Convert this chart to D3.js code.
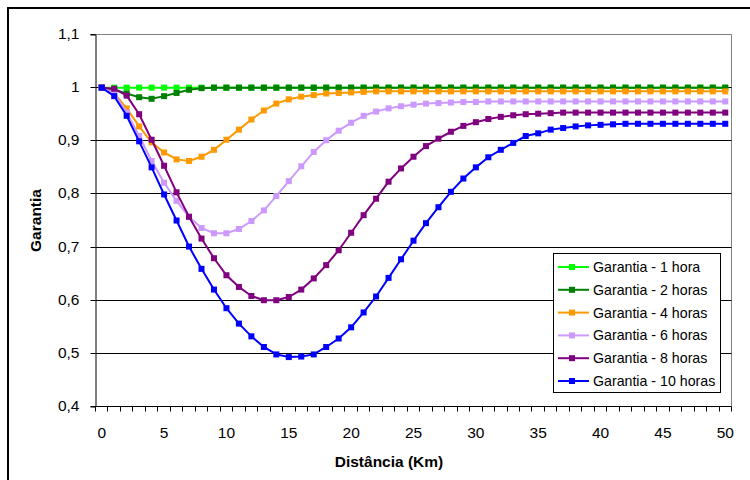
<!DOCTYPE html>
<html>
<head>
<meta charset="utf-8">
<script src="https://cdn.jsdelivr.net/npm/d3@7"></script>
<style>
  body { margin: 0; background: #fff; }
  svg { display: block; font-family: "Liberation Sans", Arial, sans-serif; }
</style>
</head>
<body>
<svg id="chart" width="750" height="480"></svg>
<script>
// ---- Data ----
const distances = [0,1,2,3,4,5,6,7,8,9,10,11,12,13,14,15,16,17,18,19,20,21,22,23,24,25,26,27,28,29,30,31,32,33,34,35,36,37,38,39,40,41,42,43,44,45,46,47,48,49,50];
const xTickLabels = [0,5,10,15,20,25,30,35,40,45,50];
const yTicks = [0.4,0.5,0.6,0.7,0.8,0.9,1.0,1.1];
const seriesNames = ["Garantia - 1 hora","Garantia - 2 horas","Garantia - 4 horas","Garantia - 6 horas","Garantia - 8 horas","Garantia - 10 horas"];
const seriesColors = ["#00FF00","#008000","#FF9900","#CC99FF","#800080","#0000FF"];

const g1h = [1,1,1,1,1,1,1,1,1,1,1,1,1,1,1,1,1,1,1,1,1,1,1,1,1,1,1,1,1,1,1,1,1,1,1,1,1,1,1,1,1,1,1,1,1,1,1,1,1,1,1];
const g2h = [1,0.996,0.989,0.982,0.979,0.984,0.990,0.996,0.999,1,1,1,1,1,1,1,1,1,1,1,1,1,1,1,1,1,1,1,1,1,1,1,1,1,1,1,1,1,1,1,1,1,1,1,1,1,1,1,1,1,1];
const g4h = [1,0.990,0.961,0.927,0.897,0.878,0.865,0.862,0.870,0.883,0.902,0.921,0.940,0.957,0.970,0.978,0.983,0.986,0.989,0.990,0.991,0.992,0.993,0.993,0.993,0.993,0.993,0.993,0.993,0.993,0.993,0.993,0.993,0.993,0.993,0.993,0.993,0.993,0.993,0.993,0.993,0.993,0.993,0.993,0.993,0.993,0.993,0.993,0.993,0.993,0.993];
const g6h = [1,0.990,0.953,0.909,0.862,0.821,0.787,0.757,0.736,0.726,0.726,0.734,0.749,0.769,0.796,0.824,0.852,0.879,0.901,0.919,0.934,0.947,0.955,0.961,0.965,0.968,0.970,0.971,0.972,0.973,0.973,0.974,0.974,0.974,0.974,0.974,0.974,0.974,0.974,0.974,0.974,0.974,0.974,0.974,0.974,0.974,0.974,0.974,0.974,0.974,0.974];
const g8h = [1,0.998,0.985,0.950,0.902,0.853,0.803,0.757,0.716,0.679,0.647,0.625,0.608,0.600,0.600,0.606,0.620,0.641,0.666,0.694,0.727,0.760,0.791,0.823,0.848,0.870,0.890,0.904,0.917,0.928,0.935,0.941,0.945,0.948,0.950,0.951,0.952,0.953,0.953,0.953,0.953,0.953,0.953,0.953,0.953,0.953,0.953,0.953,0.953,0.953,0.953];
const g10h = [1,0.984,0.947,0.899,0.850,0.799,0.750,0.701,0.659,0.620,0.585,0.556,0.532,0.512,0.498,0.493,0.494,0.498,0.512,0.528,0.549,0.577,0.607,0.642,0.677,0.712,0.745,0.775,0.804,0.829,0.850,0.869,0.883,0.896,0.909,0.914,0.921,0.924,0.927,0.929,0.930,0.931,0.932,0.932,0.932,0.932,0.932,0.932,0.932,0.932,0.932];

const seriesValues = [g1h, g2h, g4h, g6h, g8h, g10h];

// ---- Layout ----
const svg = d3.select("#chart");
const pLeft = 95.5, pRight = 731.5, pTop = 34.5, pBottom = 406.5;

const x = d3.scaleBand().domain(distances).range([pLeft, pRight]).paddingInner(0).paddingOuter(0);
const y = d3.scaleLinear().domain([0.4, 1.1]).range([pBottom, pTop]);
const cx = d => x(d) + x.bandwidth() / 2;
const snap = v => Math.round(v - 0.5) + 0.5;

// outer chart frame
svg.append("rect").attr("x", 8).attr("y", 8).attr("width", 800).attr("height", 600)
  .attr("fill", "none").attr("stroke", "#000").attr("stroke-width", 2);

// plot area border (gray top/right)
svg.append("line").attr("x1", pLeft).attr("x2", pRight).attr("y1", pTop).attr("y2", pTop)
  .attr("stroke", "#808080").attr("stroke-width", 1);
svg.append("line").attr("x1", pRight).attr("x2", pRight).attr("y1", pTop).attr("y2", pBottom)
  .attr("stroke", "#808080").attr("stroke-width", 1);

// gridlines
svg.append("g").selectAll("line").data(yTicks.filter(t => t > 0.45 && t < 1.05)).join("line")
  .attr("x1", pLeft).attr("x2", pRight)
  .attr("y1", d => snap(y(d))).attr("y2", d => snap(y(d)))
  .attr("stroke", "#000").attr("stroke-width", 1);

// y axis
const yAxis = d3.axisLeft(y).tickValues(yTicks).tickSize(5).tickPadding(11)
  .tickFormat(d => d3.format(".1~f")(d).replace(".", ","));
const gy = svg.append("g").attr("transform", `translate(${pLeft},0)`).call(yAxis);
gy.select(".domain").attr("stroke", "#000");
gy.selectAll(".tick line").attr("stroke", "#000");
gy.selectAll(".tick").attr("transform", d => `translate(0,${snap(y(d))})`);
gy.selectAll("text").attr("font-size", 15.5).attr("fill", "#000")
  .attr("font-family", "'Liberation Sans', Arial, sans-serif");

// x axis: ticks at category boundaries
const gx = svg.append("g");
gx.append("line").attr("x1", pLeft).attr("x2", pRight).attr("y1", pBottom).attr("y2", pBottom)
  .attr("stroke", "#000");
const boundaries = distances.map(d => x(d)).concat([pRight]);
gx.selectAll("line.tk").data(boundaries).join("line").attr("class", "tk")
  .attr("x1", d => snap(d)).attr("x2", d => snap(d))
  .attr("y1", pBottom).attr("y2", pBottom + 5).attr("stroke", "#000");
gx.selectAll("text").data(xTickLabels).join("text")
  .attr("x", d => cx(d)).attr("y", 438)
  .attr("text-anchor", "middle").attr("font-size", 15.5).attr("fill", "#000")
  .text(d => d);

// axis titles
svg.append("text").attr("x", 389).attr("y", 467)
  .attr("text-anchor", "middle").attr("font-size", 15.5).attr("font-weight", "bold")
  .text("Distância (Km)");
svg.append("text").attr("transform", `translate(41,${(pTop + pBottom) / 2}) rotate(-90)`)
  .attr("text-anchor", "middle").attr("font-size", 15.5).attr("font-weight", "bold")
  .text("Garantia");

// series
const line = d3.line().x((v, i) => cx(distances[i])).y(v => y(v));
const ms = 6;
seriesValues.forEach((vals, si) => {
  const g = svg.append("g");
  g.append("path").attr("d", line(vals)).attr("fill", "none")
    .attr("stroke", seriesColors[si]).attr("stroke-width", 2);
  g.selectAll("rect").data(vals).join("rect")
    .attr("x", (v, i) => cx(distances[i]) - ms / 2)
    .attr("y", v => y(v) - ms / 2)
    .attr("width", ms).attr("height", ms)
    .attr("fill", seriesColors[si]);
});

// legend
const lg = svg.append("g");
lg.append("rect").attr("x", 553.5).attr("y", 253.5).attr("width", 167).attr("height", 139)
  .attr("fill", "#fff").attr("stroke", "#000").attr("stroke-width", 1);
seriesNames.forEach((name, i) => {
  const yy = 267 + i * 22.8;
  lg.append("line").attr("x1", 558).attr("x2", 589).attr("y1", yy).attr("y2", yy)
    .attr("stroke", seriesColors[i]).attr("stroke-width", 2);
  lg.append("rect").attr("x", 572 - ms / 2).attr("y", yy - ms / 2).attr("width", ms).attr("height", ms)
    .attr("fill", seriesColors[i]);
  lg.append("text").attr("x", 593).attr("y", yy + 5).attr("font-size", 14.2).attr("fill", "#000")
    .text(name);
});
</script>
</body>
</html>
